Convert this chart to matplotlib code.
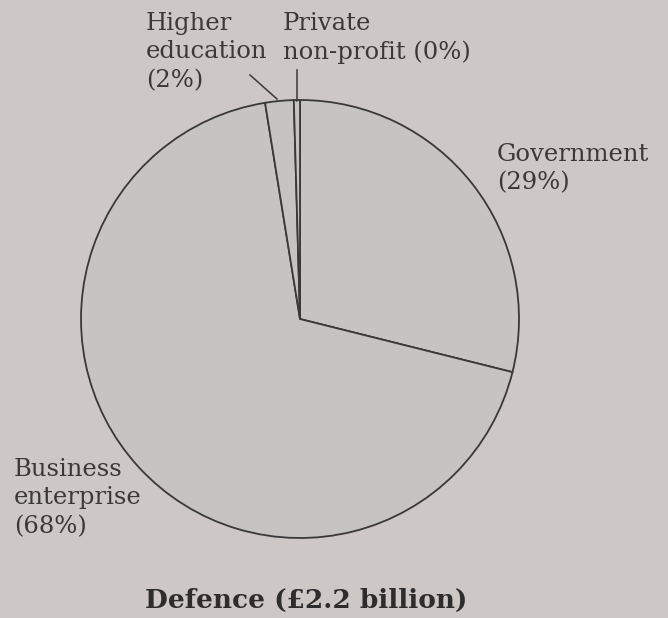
import matplotlib.pyplot as plt

# Defence R&D funding by sector (share in %), clockwise from the top
sectors = ['Government', 'Business enterprise', 'Higher education', 'Private non-profit']
shares = [28.9, 68.55, 2.1, 0.45]
labels = ['Government\n(29%)', 'Business\nenterprise\n(68%)', 'Higher\neducation\n(2%)',
          'Private\nnon-profit (0%)']
title = 'Defence (£2.2 billion)'

bg = '#cdc7c6'
fill = '#c6c4c0'
ink = '#3a3838'

fig = plt.figure(figsize=(6.68, 6.18), dpi=100)
fig.patch.set_facecolor(bg)
ax = fig.add_axes([0, 0, 1, 1])

# pie in pixel units: centre (300, 319 from top), radius 219
ax.pie(shares, center=(300, 618 - 319), radius=219, startangle=90, counterclock=False,
       colors=[fill] * len(shares),
       wedgeprops=dict(edgecolor=ink, linewidth=1.3), frame=True)
ax.set_xlim(0, 668)
ax.set_ylim(0, 618)
ax.set_aspect('auto')
ax.axis('off')

font = dict(family='DejaVu Serif', fontsize=17.5, color=ink, linespacing=1.3)

ax.text(497, 618 - 143, labels[0], ha='left', va='top', **font)
ax.text(14, 618 - 458, labels[1], ha='left', va='top', **font)
ax.text(146, 618 - 12, labels[2], ha='left', va='top', **font)
ax.text(283, 618 - 12, labels[3], ha='left', va='top', **font)

# leader lines
ax.plot([250, 277], [618 - 75, 618 - 99], color=ink, linewidth=1.1)
ax.plot([297, 297], [618 - 70, 618 - 101], color=ink, linewidth=1.1)

ax.text(306, 618 - 600, title, ha='center', va='center', family='DejaVu Serif',
        fontsize=19, fontweight='bold', color='#2e2c2c')

fig.savefig('out.png', dpi=100, facecolor=bg)
